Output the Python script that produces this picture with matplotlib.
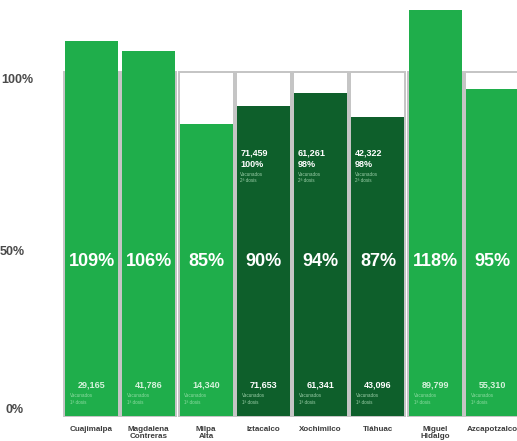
import numpy as np
import matplotlib
matplotlib.use("Agg")
import matplotlib.pyplot as plt

# data
boroughs = ["Cuajimalpa", "Magdalena\nContreras", "Milpa\nAlta", "Iztacalco",
            "Xochimilco", "Tláhuac", "Miguel\nHidalgo", "Azcapotzalco"]
pct_first = [109, 106, 85, 90, 94, 87, 118, 95]
first_dose = ["29,165", "41,786", "14,340", "71,653", "61,341", "43,096", "89,799", "55,310"]
second_dose = [None, None, None, "71,459", "61,261", "42,322", None, None]
pct_second = [None, None, None, "100%", "98%", "98%", None, None]
dark = [False, False, False, True, True, True, False, False]
ytick_vals = [100, 50, 0]
ytick_text = ["100%", "50%", "0%"]

light_green = "#1fae4b"
dark_green = "#0e5f2b"

plt.rcParams["font.family"] = ["Liberation Sans", "DejaVu Sans"]

fig = plt.figure(figsize=(5.17, 4.41), dpi=100)
ax = fig.add_axes([0, 0, 1, 1])
ax.set_xlim(-1.597, 7.426)
ax.set_ylim(-7.27, 120.9)
ax.axis("off")

x = np.arange(len(boroughs))
colors = [dark_green if d else light_green for d in dark]

# target boxes (100%)
ax.bar(x, [100] * len(x), width=0.96, bottom=0, facecolor="white",
       edgecolor="#c4c4c4", linewidth=1.4, zorder=1)
ax.bar(x, pct_first, width=0.925, color=colors, zorder=2)

for i in x:
    ax.text(i, 45, f"{pct_first[i]}%", color="white", fontsize=13,
            fontweight="bold", ha="center", va="center", zorder=3)
    num_col = "white" if dark[i] else "#d6f2dc"
    small_col = "#9ccfa9" if dark[i] else "#8fdca3"
    ax.text(i, 9, first_dose[i], color=num_col, fontsize=6.5,
            fontweight="bold", ha="center", va="center", zorder=3)
    ax.text(i - 0.38, 5.9, "Vacunados", color=small_col, fontsize=3.3,
            ha="left", va="center", zorder=3)
    ax.text(i - 0.38, 3.9, "1ª dosis", color=small_col, fontsize=3.3,
            ha="left", va="center", zorder=3)
    if second_dose[i]:
        ax.text(i - 0.4, 76.5, second_dose[i], color="white", fontsize=6.5,
                fontweight="bold", ha="left", va="center", zorder=3)
        ax.text(i - 0.4, 73.0, pct_second[i], color="white", fontsize=6.5,
                fontweight="bold", ha="left", va="center", zorder=3)
        ax.text(i - 0.4, 70.2, "Vacunados", color="#9ccfa9", fontsize=3.3,
                ha="left", va="center", zorder=3)
        ax.text(i - 0.4, 68.4, "2ª dosis", color="#9ccfa9", fontsize=3.3,
                ha="left", va="center", zorder=3)
    ax.text(i, -3.0, boroughs[i], color="#3c3c3c", fontsize=5.8,
            fontweight="bold", ha="center", va="top", linespacing=0.95,
            zorder=3)

# y labels
label_right = [-1.02, -1.16, -1.18]
label_y = [97.7, 47.7, 1.7]
for xr, yv, t in zip(label_right, label_y, ytick_text):
    ax.text(xr, yv, t, color="#4a4a4a", fontsize=9, fontweight="bold",
            ha="right", va="center")

fig.savefig("out.png", dpi=100)
